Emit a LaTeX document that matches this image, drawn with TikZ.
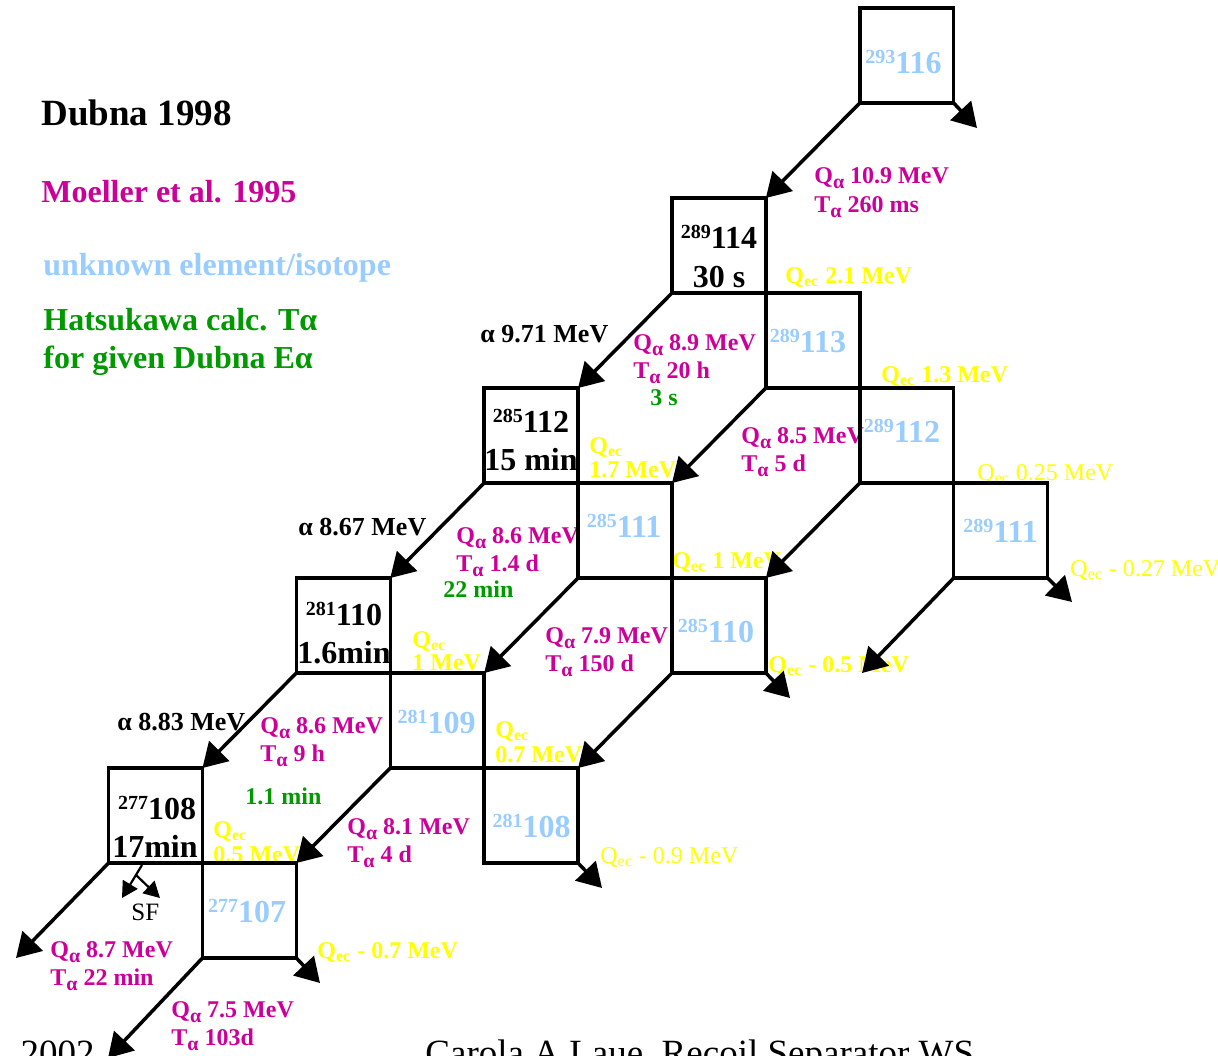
\documentclass[tikz,border=0pt]{standalone}
\usepackage{fontspec}
\setmainfont{Liberation Serif}
\usepackage{tikz}
\usetikzlibrary{arrows.meta}

\definecolor{moecol}{RGB}{204,0,153}
\definecolor{unkcol}{RGB}{153,204,255}
\definecolor{hatcol}{RGB}{0,153,0}
\definecolor{ecyel}{RGB}{255,255,0}

\newcommand{\nucl}[2]{\raisebox{5pt}{\fontsize{10}{12}\selectfont #1}#2}
\newcommand{\Qa}{Q\raisebox{-2.5pt}{\fontsize{10}{10}\selectfont α}}
\newcommand{\Ta}{T\raisebox{-2.5pt}{\fontsize{10}{10}\selectfont α}}
\newcommand{\Qec}{Q\textsubscript{ec}}

\begin{document}
\begin{tikzpicture}[
  x=0.5pt, y=-0.5pt,
  nucbox/.style={draw, line width=1.75pt, minimum width=46.95pt, minimum height=47.5pt, inner sep=0pt, outer sep=0pt},
  nuctxt/.style={anchor=base, inner sep=0pt, font=\fontsize{16}{19}\selectfont\bfseries},
  unk/.style={nuctxt, text=unkcol},
  decay/.style={-{Triangle[length=12pt, width=14pt]}, line width=1.75pt},
  sfarrow/.style={-{Triangle[length=8pt, width=8.5pt]}, line width=1.1pt},
  txt/.style={anchor=base west, inner sep=0pt, font=\fontsize{12}{14}\selectfont\bfseries},
  moe/.style={txt, text=moecol},
  hatsu/.style={txt, text=hatcol},
  dubna/.style={txt, font=\fontsize{13}{15}\selectfont\bfseries},
  qec/.style={txt, text=ecyel},
  qecthin/.style={qec, font=\fontsize{12}{14}\selectfont},
  lgd/.style={anchor=base west, inner sep=0pt, font=\fontsize{16}{19}\selectfont\bfseries},
  foot/.style={inner sep=0pt, font=\fontsize{18.5}{22}\selectfont}
]
\useasboundingbox (0,0) rectangle (1218,1055);

% --- Legend ---
\node[lgd, font=\fontsize{18.5}{22}\selectfont\bfseries] (lgdubna) at (41,125) {Dubna 1998};
\node[lgd, text=moecol] (lgmoe) at (41,202) {Moeller et al. 1995};
\node[lgd, text=unkcol] (lgunk) at (43,275) {unknown element/isotope};
\node[lgd, text=hatcol] (lghat1) at (43,330) {Hatsukawa calc. Tα};
\node[lgd, text=hatcol] (lghat2) at (43,368) {for given Dubna Eα};

% --- Dubna alpha energies ---
\node[dubna] (ea114) at (480,342) {α 9.71 MeV};
\node[dubna] (ea112) at (298,535) {α 8.67 MeV};
\node[dubna] (ea110) at (117,730) {α 8.83 MeV};

% --- Moeller Q and T ---
\node[moe] (qa116) at (814,183) {\Qa{} 10.9 MeV};
\node[moe] (ta116) at (814,212) {\Ta{} 260 ms};
\node[moe] (qa114) at (633,350) {\Qa{} 8.9 MeV};
\node[moe] (ta114) at (633,378) {\Ta{} 20 h};
\node[moe] (qa113) at (741,443) {\Qa{} 8.5 MeV};
\node[moe] (ta113) at (741,471) {\Ta{} 5 d};
\node[moe] (qa112) at (456,543) {\Qa{} 8.6 MeV};
\node[moe] (ta112) at (456,571) {\Ta{} 1.4 d};
\node[moe] (qa111) at (545,643) {\Qa{} 7.9 MeV};
\node[moe] (ta111) at (545,671) {\Ta{} 150 d};
\node[moe] (qa110) at (260,733) {\Qa{} 8.6 MeV};
\node[moe] (ta110) at (260,761) {\Ta{} 9 h};
\node[moe] (qa109) at (347,834) {\Qa{} 8.1 MeV};
\node[moe] (ta109) at (347,862) {\Ta{} 4 d};
\node[moe] (qa108) at (50,957) {\Qa{} 8.7 MeV};
\node[moe] (ta108) at (50,985) {\Ta{} 22 min};
\node[moe] (qa107) at (171,1017) {\Qa{} 7.5 MeV};
\node[moe] (ta107) at (171,1045) {\Ta{} 103d};

% Hatsukawa half-lives
\node[hatsu] (hk114) at (650,405) {3 s};
\node[hatsu] (hk112) at (443,597) {22 min};
\node[hatsu] (hk110) at (245,804) {1.1 min};

% --- EC energies ---
\node[qec] (ec114) at (785,283) {\Qec{} 2.1 MeV};
\node[qec] (ec113) at (881,382) {\Qec{} 1.3 MeV};
\node[qecthin] (ec112u) at (977,480) {\Qec{} 0.25 MeV};
\node[qecthin] (ec111u) at (1070,576) {\Qec{} - 0.27 MeV};
\node[qec] (ec112a) at (589,453) {\Qec};
\node[qec] (ec112b) at (589,477) {1.7 MeV};
\node[qec] (ec111) at (672,568) {\Qec{} 1 MeV};
\node[qec] (ec110u) at (768,672) {\Qec{} - 0.5 MeV};
\node[qec] (ec110a) at (412,647) {\Qec};
\node[qec] (ec110b) at (412,670) {1 MeV};
\node[qec] (ec109a) at (495,737) {\Qec};
\node[qec] (ec109b) at (495,762) {0.7 MeV};
\node[qecthin] (ec108u) at (600,863) {\Qec{} - 0.9 MeV};
\node[qec] (ec108a) at (213,837) {\Qec};
\node[qec] (ec108b) at (213,862) {0.5 MeV};
\node[qec] (ec107) at (317,958) {\Qec{} - 0.7 MeV};

\node[txt, font=\fontsize{12.5}{14}\selectfont] (sf) at (131,920) {SF};

% Footer (cut at the lower edge)
\node[foot, anchor=base east] (ftyear) at (95,1065) {2002};
\node[foot, anchor=base west] (ftname) at (425,1065) {Carola A Laue, Recoil Separator WS};

% --- Nuclide boxes ---
\node[nucbox] (n116) at (906.7,55.5) {};
\node[nucbox] (n114) at (718.9,245.5) {};
\node[nucbox] (n113) at (812.8,340.5) {};
\node[nucbox] (n112u) at (906.7,435.5) {};
\node[nucbox] (n111u) at (1000.6,530.5) {};
\node[nucbox] (n112) at (531.1,435.5) {};
\node[nucbox] (n111) at (625,530.5) {};
\node[nucbox] (n110u) at (718.9,625.5) {};
\node[nucbox] (n110) at (343.3,625.5) {};
\node[nucbox] (n109) at (437.2,720.5) {};
\node[nucbox] (n108u) at (531.1,815.5) {};
\node[nucbox] (n108) at (155.5,815.5) {};
\node[nucbox] (n107) at (249.4,910.5) {};

\node[unk] (l116) at (903.5,73) {\nucl{293}{116}};
\node[nuctxt] (l114) at (719,248) {\nucl{289}{114}};
\node[nuctxt] (h114) at (719,287) {30 s};
\node[unk] (l113) at (808,352) {\nucl{289}{113}};
\node[unk] (l112u) at (902,442) {\nucl{289}{112}};
\node[unk] (l111u) at (1000.5,542) {\nucl{289}{111}};
\node[nuctxt] (l112) at (531,432) {\nucl{285}{112}};
\node[nuctxt] (h112) at (531,470) {15 min};
\node[unk] (l111) at (624,537) {\nucl{285}{111}};
\node[unk] (l110u) at (716,642) {\nucl{285}{110}};
\node[nuctxt] (l110) at (344,625) {\nucl{281}{110}};
\node[nuctxt] (h110) at (344,663) {1.6min};
\node[unk] (l109) at (436.5,733) {\nucl{281}{109}};
\node[unk] (l108u) at (531.5,837) {\nucl{281}{108}};
\node[nuctxt] (l108) at (157,819) {\nucl{277}{108}};
\node[nuctxt] (h108) at (155,857) {17min};
\node[unk] (l107) at (247,922) {\nucl{277}{107}};

% --- Decay arrows ---
\coordinate (e116) at (977,128);
\coordinate (e111a) at (862,673);
\coordinate (e111b) at (1072,602);
\coordinate (e110u) at (790,698);
\coordinate (e108u) at (602,888);
\coordinate (e108) at (16,958);
\coordinate (e107a) at (108,1058);
\coordinate (e107b) at (320,983);

\draw[decay] (n116.south west) -- (n114.north east);
\draw[decay] (n116.south east) -- (e116);
\draw[decay] (n114.south west) -- (n112.north east);
\draw[decay] (n113.south west) -- (n111.north east);
\draw[decay] (n112u.south west) -- (n110u.north east);
\draw[decay] (n111u.south west) -- (e111a);
\draw[decay] (n111u.south east) -- (e111b);
\draw[decay] (n112.south west) -- (n110.north east);
\draw[decay] (n111.south west) -- (n109.north east);
\draw[decay] (n110u.south west) -- (n108u.north east);
\draw[decay] (n110u.south east) -- (e110u);
\draw[decay] (n110.south west) -- (n108.north east);
\draw[decay] (n109.south west) -- (n107.north east);
\draw[decay] (n108u.south east) -- (e108u);
\draw[decay] (n108.south west) -- (e108);
\draw[decay] (n107.south west) -- (e107a);
\draw[decay] (n107.south east) -- (e107b);

% spontaneous fission
\coordinate (sf0) at (142,865);
\coordinate (sf1) at (122,898);
\coordinate (sf2) at (136,875);
\coordinate (sf3) at (160,898);
\draw[sfarrow] (sf0) -- (sf1);
\draw[sfarrow] (sf2) -- (sf3);

\end{tikzpicture}
\end{document}
